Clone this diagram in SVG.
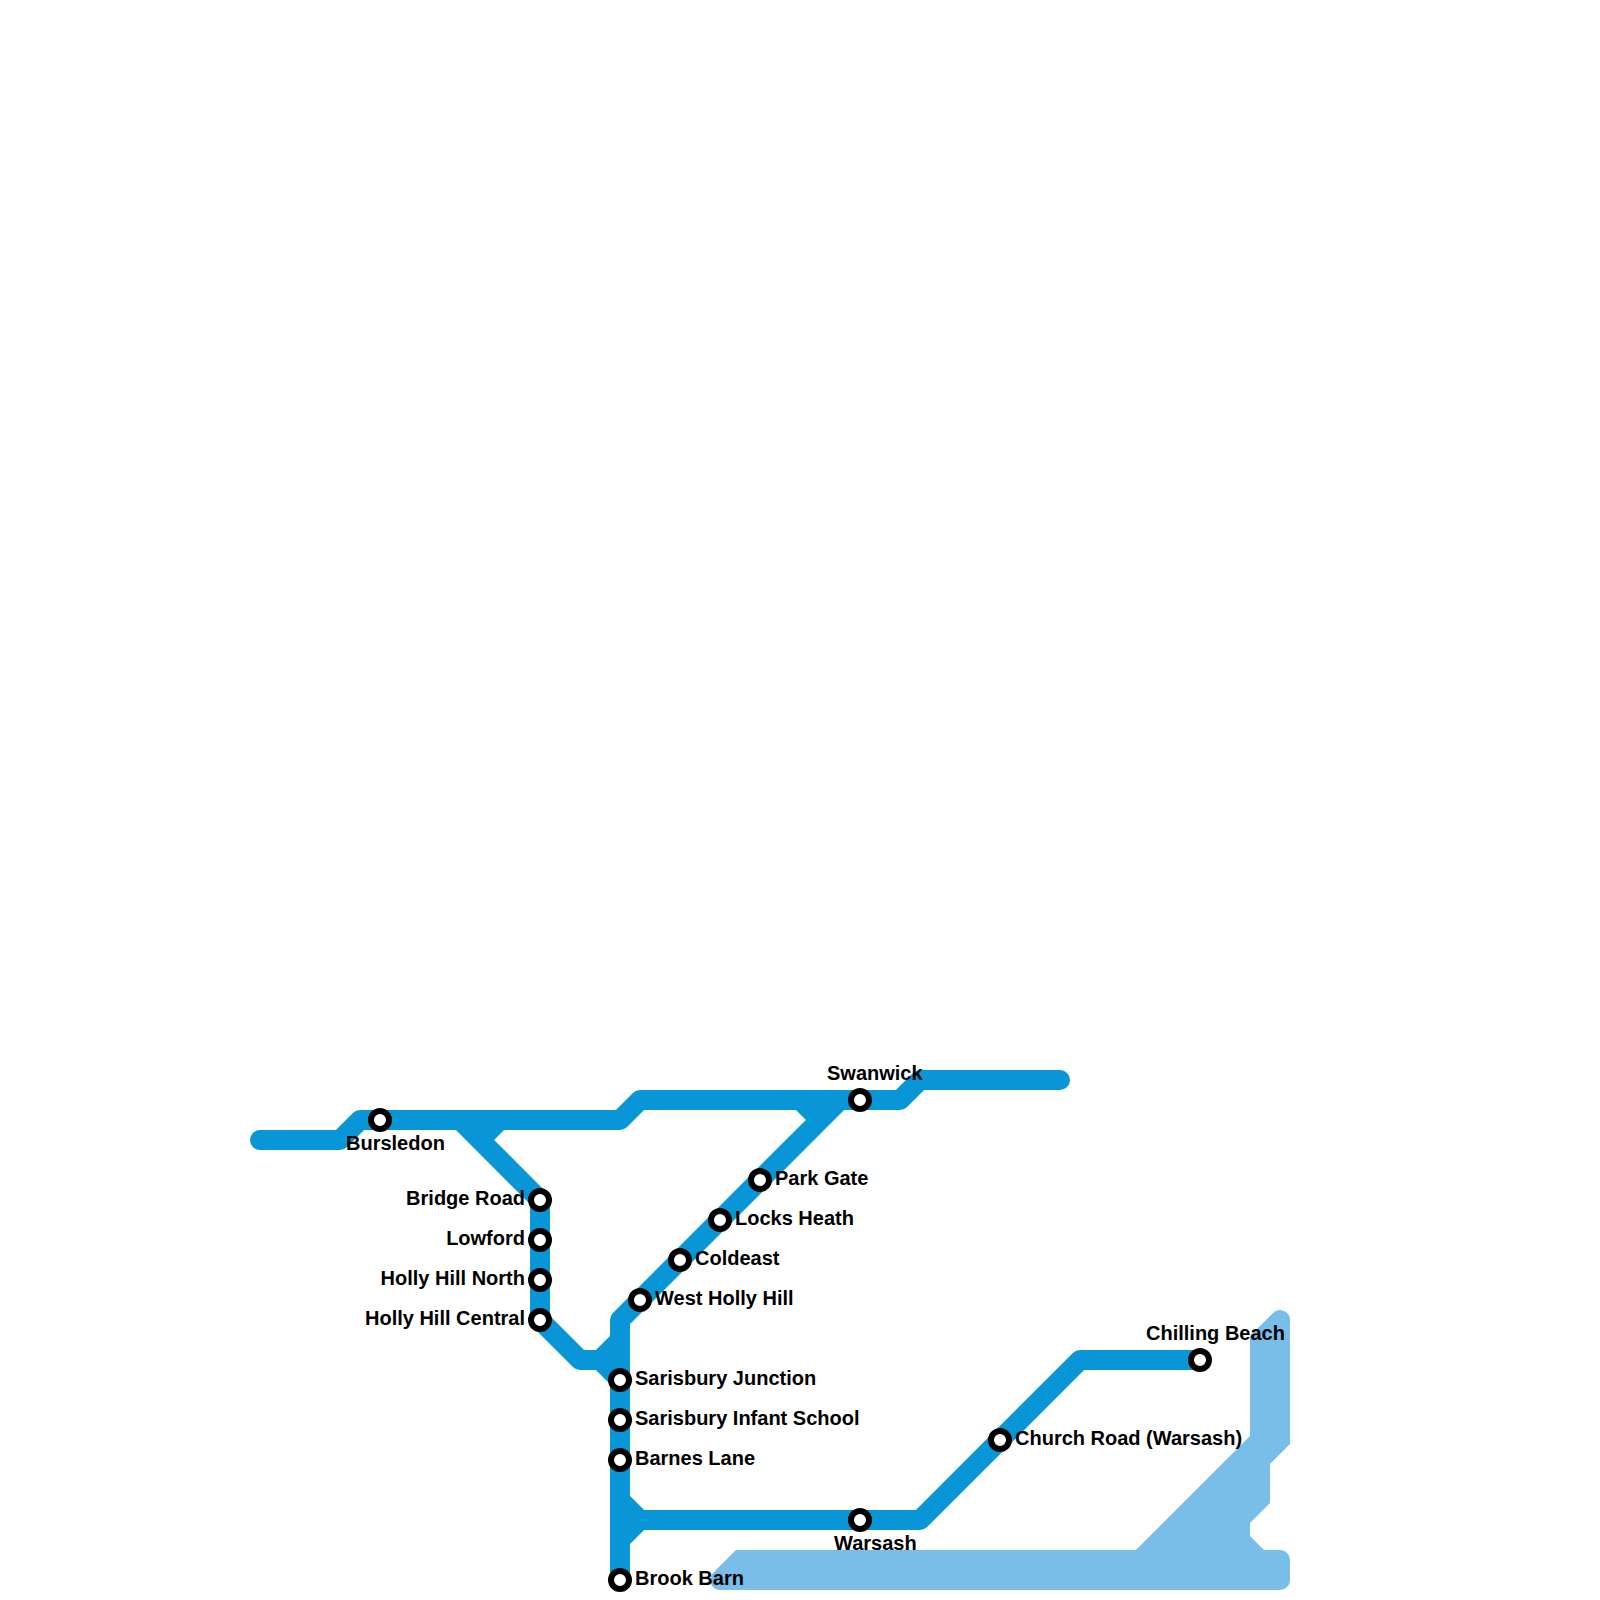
<svg xmlns="http://www.w3.org/2000/svg" width="1600" height="1600" viewBox="0 0 1600 1600">
<style>
.l{fill:none;stroke:#0896d7;stroke-width:20;stroke-linejoin:round;stroke-linecap:butt}
.r{stroke-linecap:round}
.a{fill:#79bde9}
.s{fill:#fff;stroke:#000;stroke-width:6}
text{font-family:"Liberation Sans",Arial,sans-serif;font-weight:700;font-size:20px;fill:#000}
.e{text-anchor:end}
</style>
<rect width="1600" height="1600" fill="#fff"/>
<g id="connectors">
<path class="a" d="M1273 1313A10 10 0 0 1 1290 1320V1444L1270 1464V1503L1250 1523V1536L1264 1550H1280A10 10 0 0 1 1290 1560V1580A10 10 0 0 1 1280 1590H720A10 10 0 0 1 713 1573L736 1550H1136L1250 1436V1336Z"/>
<path class="l r" d="M260 1140H340L360 1120H620L640 1100H900L920 1080H1060"/>
<path class="l" d="M460 1120L540 1200V1320L580 1360H600L620 1380"/>
<path class="l" d="M480 1140L500 1120"/>
<path class="l" d="M620 1580V1320L840 1100"/>
<path class="l" d="M800 1100L820 1120"/>
<path class="l" d="M600 1360L620 1340"/>
<path class="l" d="M620 1500L640 1520H920L1080 1360H1200"/>
<path class="l" d="M620 1540L640 1520"/>
</g>
<g id="bursledon"><circle class="s" cx="380" cy="1120" r="9"/><text x="346" y="1150">Bursledon</text></g>
<g id="bridge-road"><circle class="s" cx="540" cy="1200" r="9"/><text class="e" x="525" y="1205">Bridge Road</text></g>
<g id="lowford"><circle class="s" cx="540" cy="1240" r="9"/><text class="e" x="525" y="1245">Lowford</text></g>
<g id="holly-hill-north"><circle class="s" cx="540" cy="1280" r="9"/><text class="e" x="525" y="1285">Holly Hill North</text></g>
<g id="holly-hill-central"><circle class="s" cx="540" cy="1320" r="9"/><text class="e" x="525" y="1325">Holly Hill Central</text></g>
<g id="west-holly-hill"><circle class="s" cx="640" cy="1300" r="9"/><text x="655" y="1305">West Holly Hill</text></g>
<g id="coldeast"><circle class="s" cx="680" cy="1260" r="9"/><text x="695" y="1265">Coldeast</text></g>
<g id="locks-heath"><circle class="s" cx="720" cy="1220" r="9"/><text x="735" y="1225">Locks Heath</text></g>
<g id="park-gate"><circle class="s" cx="760" cy="1180" r="9"/><text x="775" y="1185">Park Gate</text></g>
<g id="swanwick"><circle class="s" cx="860" cy="1100" r="9"/><text x="827" y="1080">Swanwick</text></g>
<g id="sarisbury-junction"><circle class="s" cx="620" cy="1380" r="9"/><text x="635" y="1385">Sarisbury Junction</text></g>
<g id="sarisbury-infant-school"><circle class="s" cx="620" cy="1420" r="9"/><text x="635" y="1425">Sarisbury Infant School</text></g>
<g id="barnes-lane"><circle class="s" cx="620" cy="1460" r="9"/><text x="635" y="1465">Barnes Lane</text></g>
<g id="brook-barn"><circle class="s" cx="620" cy="1580" r="9"/><text x="635" y="1585">Brook Barn</text></g>
<g id="warsash"><circle class="s" cx="860" cy="1520" r="9"/><text x="834" y="1550">Warsash</text></g>
<g id="church-road"><circle class="s" cx="1000" cy="1440" r="9"/><text x="1015" y="1445">Church Road (Warsash)</text></g>
<g id="chilling-beach"><circle class="s" cx="1200" cy="1360" r="9"/><text x="1146" y="1340">Chilling Beach</text></g>
</svg>
